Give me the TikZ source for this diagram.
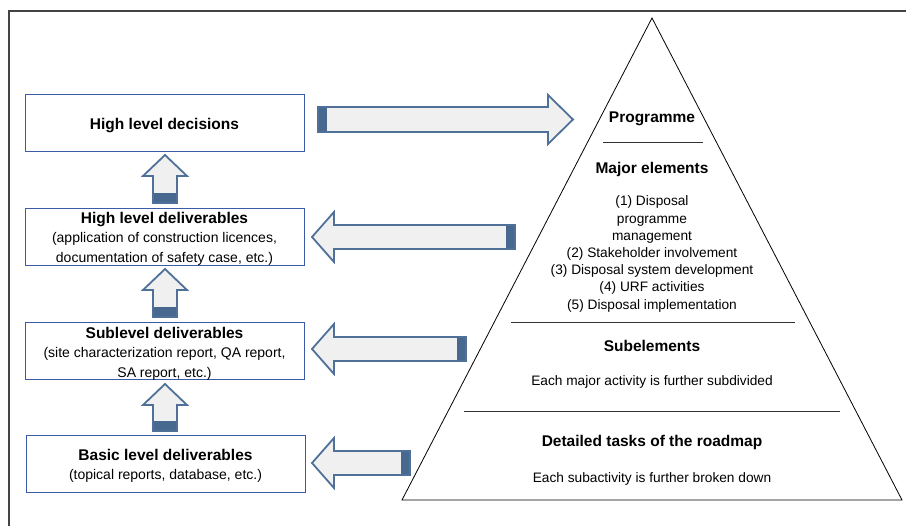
\documentclass[tikz,border=0pt]{standalone}
\usepackage{fontspec}
\setmainfont{Liberation Sans}
\definecolor{boxblue}{HTML}{3A5BA8}
\definecolor{arrline}{HTML}{4F7199}
\definecolor{arrfill}{HTML}{F0F0F0}
\definecolor{arrdark}{HTML}{48698F}
\definecolor{framegray}{HTML}{444444}
\tikzset{
  lbox/.style={draw=boxblue, line width=0.8pt, minimum width=279pt, minimum height=57pt, inner sep=0pt},
  btxt/.style={inner sep=0pt, align=center, font=\fontsize{14}{19.5}\selectfont},
  ttl/.style={font=\bfseries\fontsize{15.5}{18}\selectfont},
  txt/.style={font=\fontsize{13.7}{17.2}\selectfont, align=center},
  arrbody/.style={fill=arrfill},
  arrout/.style={draw=arrline, line width=1.8pt, line join=miter},
  sep/.style={draw=black!80, line width=0.9pt}
}
\newcommand\myUpArr[3]{%
  \path[arrbody] (#1-22,#2+21) -- (#1,#2) -- (#1+22,#2+21) -- (#1+12,#2+21) -- (#1+12,#3) -- (#1-12,#3) -- (#1-12,#2+21) -- cycle;
  \fill[arrdark] (#1-12,#3-10) rectangle (#1+12,#3);
  \path[arrout] (#1-22,#2+21) -- (#1,#2) -- (#1+22,#2+21) -- (#1+12,#2+21) -- (#1+12,#3) -- (#1-12,#3) -- (#1-12,#2+21) -- cycle;
}
\newcommand\myLeftArr[3]{%
  \path[arrbody] (#1,#2) -- (#1+22,#2-25) -- (#1+22,#2-12) -- (#3,#2-12) -- (#3,#2+12) -- (#1+22,#2+12) -- (#1+22,#2+25) -- cycle;
  \fill[arrdark] (#3-9,#2-12) rectangle (#3,#2+12);
  \path[arrout] (#1,#2) -- (#1+22,#2-25) -- (#1+22,#2-12) -- (#3,#2-12) -- (#3,#2+12) -- (#1+22,#2+12) -- (#1+22,#2+25) -- cycle;
}
\begin{document}
\begin{tikzpicture}[x=1pt,y=-1pt]
\useasboundingbox (0,0) rectangle (906,526);
% frame
\draw[framegray, line width=1.3pt] (9,526) -- (9,11) -- (906,11);
% left boxes
\node[lbox] (hld) at (164.5,123) {};
\node[lbox] (hldel) at (164.5,236.5) {};
\node[lbox] (sub) at (164.5,350.5) {};
\node[lbox] (bas) at (165.5,463.5) {};
\node[btxt] (hldt) at ([yshift=-3pt]hld.center) {\textbf{\fontsize{15.5}{19.5}\selectfont High level decisions}};
\node[btxt] (hldelt) at ([yshift=-2pt]hldel.center) {{\bfseries\fontsize{15.5}{19.5}\selectfont High level deliverables}\\(application of construction licences,\\documentation of safety case, etc.)};
\node[btxt] (subt) at ([yshift=-3pt]sub.center) {{\bfseries\fontsize{15.5}{19.5}\selectfont Sublevel deliverables}\\(site characterization report, QA report,\\SA report, etc.)};
\node[btxt] (bast) at ([yshift=-2.5pt]bas.center) {{\bfseries\fontsize{15.5}{19.5}\selectfont Basic level deliverables}\\(topical reports, database, etc.)};
% up arrows
\myUpArr{165}{155}{203}
\myUpArr{165}{269}{317}
\myUpArr{165}{384}{431}
% right arrow (top)
\path[arrbody] (318,107) -- (548,107) -- (548,95) -- (573,119.5) -- (548,144) -- (548,132) -- (318,132) -- cycle;
\fill[arrdark] (318,107) rectangle (327,132);
\path[arrout] (318,107) -- (548,107) -- (548,95) -- (573,119.5) -- (548,144) -- (548,132) -- (318,132) -- cycle;
% left arrows
\myLeftArr{312}{237}{515}
\myLeftArr{312}{349}{466}
\myLeftArr{312}{463}{410}
% pyramid
\draw[black, line width=0.8pt] (402,500) -- (652,18) -- (902,500) -- cycle;
\draw[sep] (603,142) -- (703,142);
\draw[sep] (511,322) -- (795,322);
\draw[sep] (464,411) -- (840,411);
\node[ttl] (prog) at (652,119) {Programme};
\node[ttl] (maj) at (652,169) {Major elements};
\node[txt] (majl) at (652,254) {(1) Disposal\\programme\\management\\(2) Stakeholder involvement\\(3) Disposal system development\\(4) URF activities\\(5) Disposal implementation};
\node[ttl] (subel) at (652,345.5) {Subelements};
\node[txt] (subelt) at (652,382) {Each major activity is further subdivided};
\node[ttl] (det) at (652,442) {Detailed tasks of the roadmap};
\node[txt] (dett) at (652,479) {Each subactivity is further broken down};
\end{tikzpicture}
\end{document}
